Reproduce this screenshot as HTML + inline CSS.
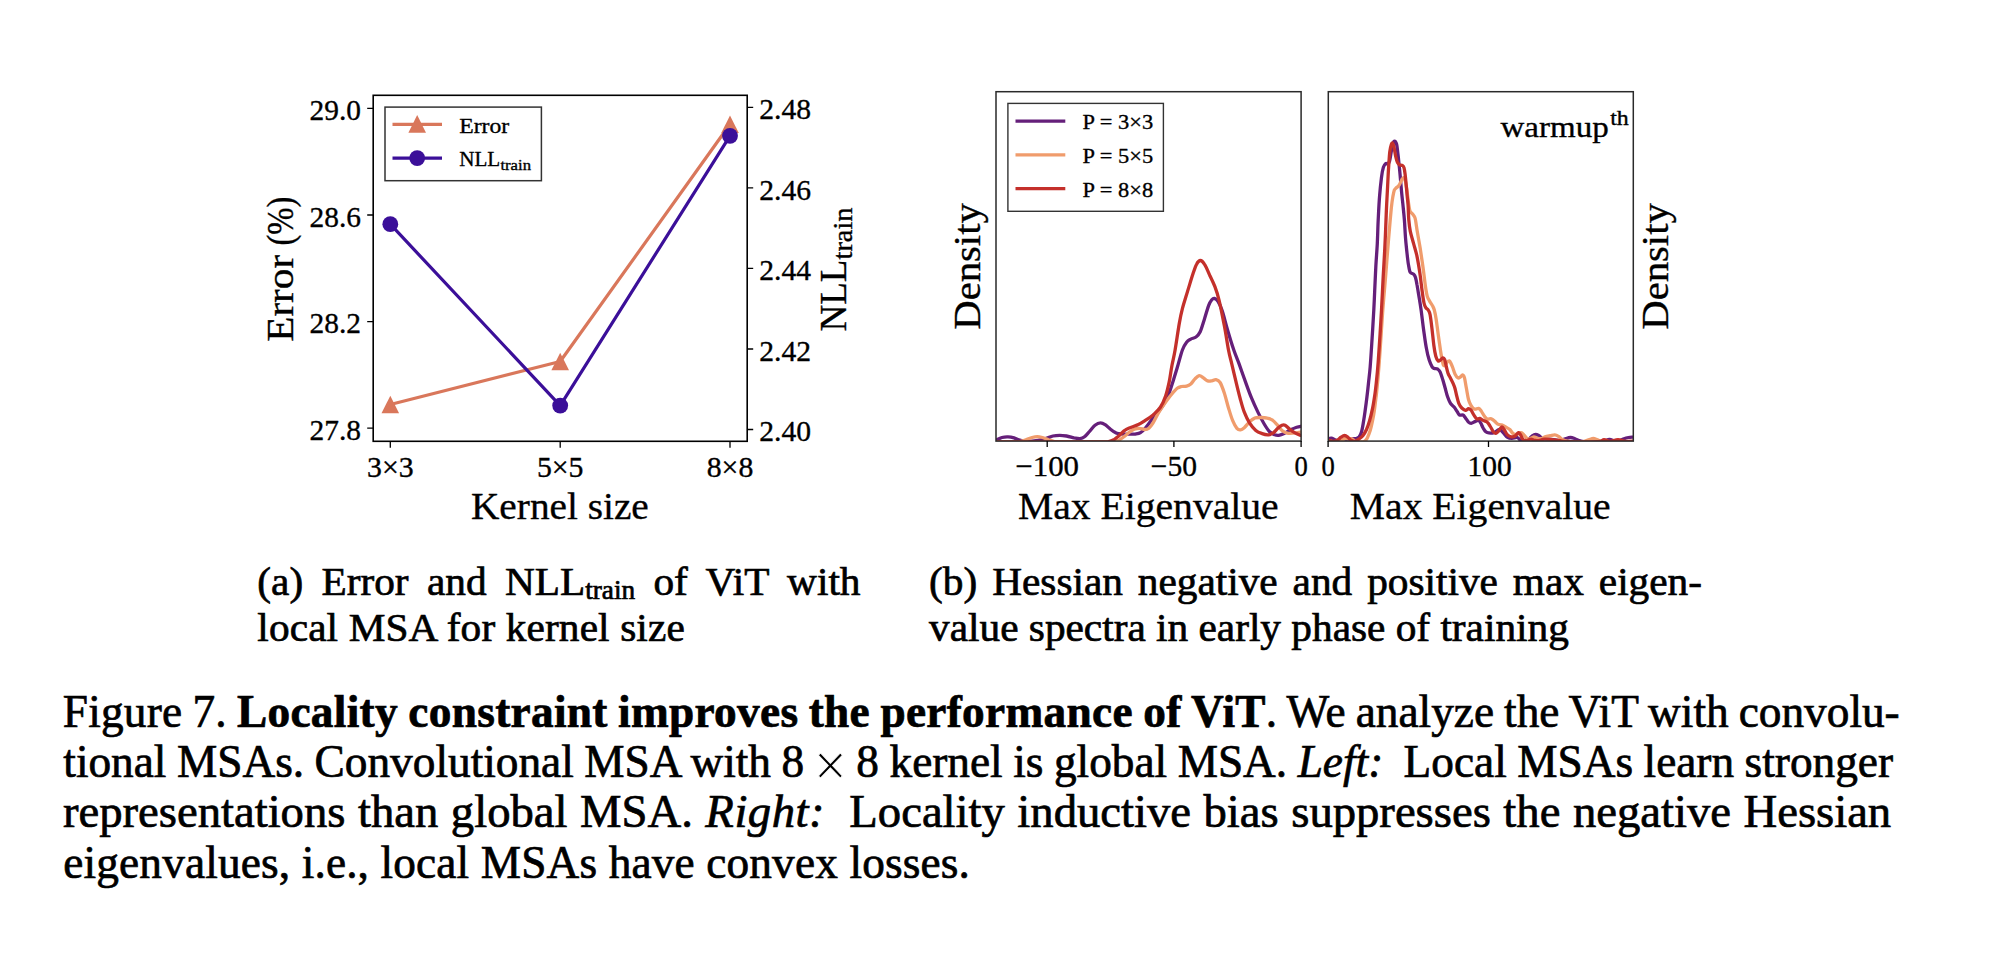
<!DOCTYPE html>
<html lang="en"><head><meta charset="utf-8"><title>Figure 7</title>
<style>
html,body{margin:0;padding:0;background:#fff}
body{width:2000px;height:954px;position:relative;overflow:hidden;font-family:"Liberation Serif", serif;color:#000}
.ln{position:absolute;white-space:pre;line-height:1;margin:0;padding:0;-webkit-text-stroke:0.7px #000}
.ln b{letter-spacing:0.31px}
.sub{font-size:66%;position:relative;top:0.15em;letter-spacing:0}
.m{display:inline-block;width:0.886em;text-align:center;word-spacing:0;font-size:1.3em;line-height:0;position:relative;top:0.147em;-webkit-text-stroke:0.8px #fff}
.g{display:inline-block;width:0.45em;height:0;overflow:hidden;vertical-align:top;word-spacing:0}
svg text{white-space:pre;stroke:#000;stroke-width:0.35px;stroke-linejoin:round}
</style></head><body>
<svg width="2000" height="560" viewBox="0 0 2000 560" style="position:absolute;left:0;top:0" font-family='"Liberation Serif", serif' fill="#000">
<g fill="none" stroke-width="3.2" stroke-linejoin="round">
<polyline stroke="#d9775b" points="390.3,404.5 560.2,361.5 730.0,124.2"/>
</g>
<polygon fill="#d9775b" points="390.3,395.7 381.5,413.3 399.1,413.3"/>
<polygon fill="#d9775b" points="560.2,352.7 551.4,370.3 569.0,370.3"/>
<polygon fill="#d9775b" points="730.0,115.4 721.2,133.0 738.8,133.0"/>
<polyline fill="none" stroke-width="3.2" stroke-linejoin="round" stroke="#3b0f99" points="390.3,224.2 560.2,405.6 730.0,135.8"/>
<circle cx="390.3" cy="224.2" r="7.9" fill="#3b0f99"/>
<circle cx="560.2" cy="405.6" r="7.9" fill="#3b0f99"/>
<circle cx="730.0" cy="135.8" r="7.9" fill="#3b0f99"/>
<rect x="373.2" y="95.3" width="374.0" height="346.0" fill="none" stroke="#000" stroke-width="1.6"/>
<text x="361.0" y="120.1" font-size="30.0" textLength="51.4" lengthAdjust="spacingAndGlyphs" text-anchor="end">29.0</text>
<text x="361.0" y="226.7" font-size="30.0" textLength="51.4" lengthAdjust="spacingAndGlyphs" text-anchor="end">28.6</text>
<text x="361.0" y="333.3" font-size="30.0" textLength="51.4" lengthAdjust="spacingAndGlyphs" text-anchor="end">28.2</text>
<text x="361.0" y="439.9" font-size="30.0" textLength="51.4" lengthAdjust="spacingAndGlyphs" text-anchor="end">27.8</text>
<text x="759.2" y="119.0" font-size="30.0" textLength="51.8" lengthAdjust="spacingAndGlyphs">2.48</text>
<text x="759.2" y="199.6" font-size="30.0" textLength="51.8" lengthAdjust="spacingAndGlyphs">2.46</text>
<text x="759.2" y="280.1" font-size="30.0" textLength="51.8" lengthAdjust="spacingAndGlyphs">2.44</text>
<text x="759.2" y="360.7" font-size="30.0" textLength="51.8" lengthAdjust="spacingAndGlyphs">2.42</text>
<text x="759.2" y="441.2" font-size="30.0" textLength="51.8" lengthAdjust="spacingAndGlyphs">2.40</text>
<text x="390.3" y="477.0" font-size="30.0" textLength="46.6" lengthAdjust="spacingAndGlyphs" text-anchor="middle">3×3</text>
<text x="560.2" y="477.0" font-size="30.0" textLength="46.6" lengthAdjust="spacingAndGlyphs" text-anchor="middle">5×5</text>
<text x="730.0" y="477.0" font-size="30.0" textLength="46.6" lengthAdjust="spacingAndGlyphs" text-anchor="middle">8×8</text>
<path d="M373.2 108.4h-6M373.2 215.0h-6M373.2 321.6h-6M373.2 428.2h-6M747.2 107.3h6M747.2 187.9h6M747.2 268.4h6M747.2 349.0h6M747.2 429.5h6M390.3 441.3v6.5M560.2 441.3v6.5M730.0 441.3v6.5" stroke="#000" stroke-width="1.3" fill="none"/>
<text x="471.0" y="519.2" font-size="38.5" textLength="177.8" lengthAdjust="spacingAndGlyphs">Kernel size</text>
<text x="293.0" y="341.8" font-size="38.5" textLength="87.0" lengthAdjust="spacingAndGlyphs" transform="rotate(-90 293.0 341.8)">Error</text>
<text x="293.0" y="245.6" font-size="38.5" textLength="49.0" lengthAdjust="spacingAndGlyphs" transform="rotate(-90 293.0 245.6)">(%)</text>
<g transform="rotate(-90 846.0 331.5)">
<text x="846.0" y="331.5" font-size="38.5" textLength="72.0" lengthAdjust="spacingAndGlyphs">NLL</text>
<text x="918.0" y="337.7" font-size="27.0" textLength="52.0" lengthAdjust="spacingAndGlyphs">train</text>
</g>
<rect x="385.0" y="107.1" width="156.4" height="73.6" fill="#fff" stroke="#333" stroke-width="1.5"/>
<path d="M392.5 124.4H442" stroke="#d9775b" stroke-width="3.2"/>
<polygon fill="#d9775b" points="417.2,115.1 408.4,132.7 426.0,132.7"/>
<path d="M392.5 158.1H442" stroke="#3b0f99" stroke-width="3.2"/>
<circle cx="417.2" cy="158.1" r="7.9" fill="#3b0f99"/>
<text x="459.2" y="133.0" font-size="22.0" textLength="49.9" lengthAdjust="spacingAndGlyphs">Error</text>
<text x="459.2" y="166.0" font-size="22.0" textLength="41.0" lengthAdjust="spacingAndGlyphs">NLL</text>
<text x="500.4" y="169.6" font-size="15.5" textLength="30.6" lengthAdjust="spacingAndGlyphs">train</text>
<clipPath id="cm"><rect x="996.0" y="91.7" width="305.1" height="349.4"/></clipPath>
<g clip-path="url(#cm)" fill="none" stroke-width="3.3" stroke-linejoin="round" stroke-linecap="butt">
<path stroke="#651f7a" d="M994.0 441.1C994.3 440.9 994.7 440.8 996.0 440.2C997.3 439.6 1000.0 438.1 1002.0 437.5C1004.0 436.9 1006.0 436.7 1008.0 436.8C1010.0 436.9 1012.0 437.3 1014.0 437.9C1016.0 438.5 1017.8 439.6 1020.0 440.2C1022.2 440.8 1024.5 441.5 1027.5 441.5C1030.5 441.5 1035.0 440.9 1038.0 440.4C1041.0 439.9 1043.0 439.4 1045.5 438.7C1048.0 438.0 1050.6 436.6 1053.0 436.0C1055.4 435.4 1057.5 435.3 1059.8 435.3C1062.0 435.3 1064.1 435.6 1066.5 436.0C1068.9 436.4 1071.8 437.4 1074.0 437.9C1076.2 438.3 1078.2 438.9 1080.0 438.7C1081.8 438.5 1082.9 438.1 1084.5 436.8C1086.1 435.5 1088.0 433.0 1089.8 431.1C1091.5 429.2 1093.2 426.6 1095.0 425.2C1096.8 423.8 1098.5 422.8 1100.3 422.8C1102.0 422.7 1103.8 423.8 1105.5 424.9C1107.2 426.1 1109.0 428.2 1110.8 429.5C1112.5 430.9 1114.1 432.2 1116.0 432.9C1117.9 433.7 1119.5 433.8 1122.0 434.0C1124.5 434.1 1128.8 434.0 1131.0 434.1C1133.2 434.1 1133.6 434.3 1135.2 434.1C1136.8 433.8 1138.8 433.7 1140.5 432.6C1142.2 431.6 1144.0 429.7 1145.7 427.7C1147.5 425.7 1149.1 423.1 1151.0 420.7C1152.9 418.3 1155.2 415.9 1157.3 413.2C1159.4 410.5 1161.6 407.8 1163.5 404.6C1165.4 401.4 1167.2 397.9 1168.8 394.0C1170.4 390.1 1171.6 385.8 1173.0 381.4C1174.4 377.0 1175.6 373.0 1177.2 367.8C1178.8 362.6 1180.8 354.3 1182.4 350.0C1184.0 345.7 1185.2 344.0 1186.6 342.2C1188.0 340.4 1189.2 340.0 1190.8 339.1C1192.4 338.2 1194.4 338.2 1196.0 337.0C1197.6 335.8 1198.8 334.8 1200.2 331.8C1201.6 328.8 1203.0 323.6 1204.4 319.2C1205.8 314.8 1207.4 308.8 1208.6 305.6C1209.8 302.4 1210.8 301.0 1211.8 299.8C1212.8 298.6 1213.4 298.1 1214.4 298.4C1215.4 298.7 1216.7 299.3 1218.0 301.4C1219.3 303.5 1220.6 306.1 1222.2 310.8C1223.8 315.5 1225.6 323.2 1227.5 329.7C1229.4 336.2 1231.9 344.4 1233.8 350.0C1235.7 355.6 1237.1 358.4 1239.0 363.6C1240.9 368.8 1243.2 375.6 1245.3 381.4C1247.4 387.2 1249.5 393.1 1251.6 398.2C1253.7 403.3 1255.8 407.8 1257.9 412.1C1260.0 416.4 1262.3 420.8 1264.2 424.0C1266.1 427.2 1267.7 429.7 1269.4 431.5C1271.2 433.3 1273.1 434.1 1274.7 434.8C1276.3 435.4 1277.2 435.5 1278.8 435.3C1280.4 435.1 1282.2 434.5 1284.1 433.6C1286.0 432.7 1288.3 430.9 1290.4 429.8C1292.5 428.8 1294.9 427.8 1296.7 427.2C1298.5 426.6 1299.9 426.4 1301.1 426.2C1302.3 425.9 1303.5 425.7 1304.0 425.6"/>
<path stroke="#f09c6c" d="M994.0 441.9C997.3 441.9 1009.7 442.0 1014.0 441.9C1018.3 441.8 1018.0 441.9 1020.0 441.5C1022.0 441.1 1024.0 440.5 1026.0 439.8C1028.0 439.1 1030.1 438.0 1032.0 437.5C1033.9 437.0 1035.5 436.6 1037.3 436.6C1039.0 436.6 1040.6 437.0 1042.5 437.5C1044.4 438.0 1046.5 439.1 1048.5 439.8C1050.5 440.5 1052.2 441.2 1054.5 441.6C1056.8 441.9 1054.4 441.8 1062.0 441.9C1069.6 441.9 1091.4 441.9 1100.0 441.9C1108.6 441.9 1110.6 442.0 1113.8 441.7C1117.0 441.4 1117.2 441.1 1119.0 440.2C1120.8 439.3 1122.5 437.7 1124.3 436.4C1126.0 435.1 1127.8 433.3 1129.5 432.1C1131.2 430.9 1132.5 430.0 1134.2 429.3C1135.9 428.7 1137.7 428.3 1139.4 428.3C1141.2 428.3 1143.1 429.5 1144.7 429.5C1146.3 429.5 1147.5 429.4 1148.9 428.3C1150.3 427.2 1151.5 425.4 1153.1 422.9C1154.7 420.4 1156.4 416.4 1158.3 413.2C1160.2 410.0 1162.3 406.8 1164.6 403.6C1166.9 400.4 1169.8 396.5 1171.9 394.0C1174.0 391.5 1175.6 389.6 1177.2 388.3C1178.8 387.1 1179.8 386.9 1181.4 386.5C1183.0 386.1 1185.0 386.6 1186.6 386.2C1188.2 385.8 1189.4 385.3 1190.8 384.1C1192.2 382.9 1193.6 380.2 1195.0 378.8C1196.4 377.4 1197.8 375.9 1199.2 375.7C1200.6 375.5 1202.0 376.9 1203.4 377.8C1204.8 378.7 1206.2 380.4 1207.6 380.9C1209.0 381.4 1210.4 381.1 1211.8 380.9C1213.2 380.7 1214.6 379.3 1216.0 379.6C1217.4 379.9 1218.7 380.3 1220.1 382.5C1221.5 384.7 1222.9 388.8 1224.3 393.0C1225.7 397.2 1227.1 403.3 1228.5 407.9C1229.9 412.5 1231.3 417.3 1232.7 420.7C1234.1 424.1 1235.6 426.8 1236.9 428.3C1238.2 429.8 1239.4 430.0 1240.6 429.8C1241.8 429.7 1242.8 429.0 1244.3 427.7C1245.8 426.4 1247.8 423.5 1249.5 421.8C1251.2 420.2 1252.8 418.8 1254.7 418.1C1256.6 417.3 1258.9 417.5 1261.0 417.5C1263.1 417.5 1265.4 417.6 1267.3 418.1C1269.2 418.5 1270.8 419.0 1272.6 420.2C1274.3 421.5 1276.2 423.8 1277.8 425.5C1279.4 427.2 1280.4 429.2 1282.0 430.5C1283.6 431.7 1285.3 432.7 1287.2 433.1C1289.1 433.6 1291.2 433.3 1293.5 433.1C1295.8 432.9 1299.3 432.3 1301.1 432.0C1302.8 431.7 1303.5 431.7 1304.0 431.6"/>
<path stroke="#c4302b" d="M994.0 441.9C1005.0 441.9 1042.3 441.9 1060.0 441.9C1077.7 441.9 1091.9 441.9 1100.0 441.9C1108.1 441.9 1106.2 442.1 1108.5 441.7C1110.8 441.3 1112.0 440.8 1113.8 439.8C1115.5 438.8 1117.2 437.2 1119.0 435.7C1120.8 434.2 1122.5 432.0 1124.3 430.7C1126.1 429.3 1127.7 428.7 1130.0 427.7C1132.3 426.7 1135.8 425.8 1138.4 424.5C1141.0 423.3 1143.2 421.8 1145.7 420.2C1148.2 418.6 1150.6 417.0 1153.1 414.9C1155.5 412.7 1158.3 410.4 1160.4 407.3C1162.5 404.2 1164.1 400.4 1165.6 396.1C1167.1 391.8 1168.2 386.5 1169.3 381.4C1170.3 376.3 1170.9 370.9 1171.9 365.7C1172.9 360.5 1173.9 357.1 1175.1 350.0C1176.3 342.9 1178.1 330.3 1179.3 323.4C1180.5 316.5 1181.0 314.1 1182.4 308.7C1183.8 303.3 1186.0 296.7 1187.7 290.9C1189.5 285.1 1191.4 278.6 1192.9 274.1C1194.4 269.7 1195.3 266.5 1196.6 264.2C1197.8 261.9 1199.1 260.5 1200.4 260.5C1201.7 260.5 1202.9 261.8 1204.4 264.2C1206.0 266.6 1208.0 271.4 1209.7 275.2C1211.5 278.9 1213.3 282.5 1214.9 286.7C1216.5 290.9 1217.5 293.8 1219.1 300.3C1220.7 306.8 1222.7 317.2 1224.3 325.5C1225.9 333.8 1227.3 343.6 1228.5 350.0C1229.7 356.4 1230.5 358.4 1231.7 363.6C1232.9 368.8 1234.5 375.6 1235.9 381.4C1237.3 387.2 1238.7 393.1 1240.1 398.2C1241.5 403.3 1242.7 408.0 1244.3 412.1C1245.9 416.2 1247.6 419.8 1249.5 422.9C1251.4 425.9 1253.7 428.7 1255.8 430.5C1257.9 432.3 1260.0 432.9 1262.1 433.6C1264.2 434.4 1266.5 434.9 1268.4 434.8C1270.3 434.6 1272.0 433.7 1273.6 432.6C1275.2 431.5 1276.4 429.5 1277.8 428.3C1279.2 427.1 1280.8 425.7 1282.0 425.2C1283.2 424.7 1283.9 424.6 1285.1 425.2C1286.3 425.8 1287.7 427.6 1289.3 428.8C1290.9 430.1 1292.6 431.5 1294.6 432.6C1296.6 433.7 1299.5 434.9 1301.1 435.6C1302.7 436.3 1303.5 436.5 1304.0 436.7"/>
</g>
<rect x="996.0" y="91.7" width="305.1" height="349.4" fill="none" stroke="#2a2a2a" stroke-width="1.5"/>
<text x="1047.2" y="476.0" font-size="30.0" textLength="63.6" lengthAdjust="spacingAndGlyphs" text-anchor="middle">−100</text>
<text x="1173.9" y="476.0" font-size="30.0" textLength="46.2" lengthAdjust="spacingAndGlyphs" text-anchor="middle">−50</text>
<text x="1301.1" y="476.0" font-size="30.0" textLength="13.3" lengthAdjust="spacingAndGlyphs" text-anchor="middle">0</text>
<text x="1018.0" y="519.3" font-size="38.5" textLength="260.7" lengthAdjust="spacingAndGlyphs">Max Eigenvalue</text>
<text x="980.4" y="329.7" font-size="38.5" textLength="126.5" lengthAdjust="spacingAndGlyphs" transform="rotate(-90 980.4 329.7)">Density</text>
<rect x="1007.9" y="103.4" width="155.5" height="107.9" fill="#fff" stroke="#333" stroke-width="1.4"/>
<path d="M1015.5 121.1H1065.3" stroke="#651f7a" stroke-width="3.3"/>
<text x="1082.6" y="129.1" font-size="22.0" textLength="70.5" lengthAdjust="spacingAndGlyphs">P = 3×3</text>
<path d="M1015.5 154.9H1065.3" stroke="#f09c6c" stroke-width="3.3"/>
<text x="1082.6" y="162.9" font-size="22.0" textLength="70.5" lengthAdjust="spacingAndGlyphs">P = 5×5</text>
<path d="M1015.5 188.7H1065.3" stroke="#c4302b" stroke-width="3.3"/>
<text x="1082.6" y="196.7" font-size="22.0" textLength="70.5" lengthAdjust="spacingAndGlyphs">P = 8×8</text>
<clipPath id="cr"><rect x="1328.3" y="91.7" width="305.0" height="349.4"/></clipPath>
<g clip-path="url(#cr)" fill="none" stroke-width="3.3" stroke-linejoin="round">
<path stroke="#651f7a" d="M1326.0 439.4C1326.4 439.3 1327.4 438.9 1328.3 438.7C1329.2 438.5 1330.2 437.9 1331.3 438.1C1332.4 438.3 1333.6 439.2 1335.0 439.8C1336.4 440.4 1337.6 441.2 1339.5 441.5C1341.4 441.8 1344.3 441.9 1346.3 441.5C1348.3 441.1 1349.9 439.5 1351.5 439.0C1353.1 438.5 1354.8 438.8 1356.0 438.5C1357.2 438.2 1358.1 438.2 1359.0 437.2C1359.9 436.2 1360.6 434.8 1361.3 432.6C1362.0 430.4 1362.5 427.6 1363.1 424.1C1363.7 420.6 1364.4 416.3 1365.0 411.8C1365.6 407.3 1366.3 402.1 1366.9 397.3C1367.5 392.5 1368.0 388.1 1368.5 383.0C1369.0 377.9 1369.6 374.1 1370.2 366.6C1370.8 359.2 1371.5 347.7 1372.1 338.3C1372.7 328.9 1373.4 317.9 1373.8 310.0C1374.2 302.1 1374.4 297.9 1374.7 290.8C1375.0 283.7 1375.4 275.1 1375.8 267.2C1376.2 259.3 1376.9 251.5 1377.3 243.6C1377.7 235.7 1377.8 227.9 1378.2 220.0C1378.6 212.1 1379.0 203.1 1379.6 196.0C1380.1 188.9 1380.9 182.0 1381.5 177.2C1382.1 172.4 1382.7 169.6 1383.4 167.3C1384.1 165.0 1385.1 164.1 1385.8 163.5C1386.5 162.9 1387.2 164.4 1387.8 164.0C1388.4 163.6 1389.0 163.0 1389.6 161.0C1390.2 159.0 1390.7 154.8 1391.2 152.0C1391.7 149.2 1392.2 145.8 1392.8 144.0C1393.3 142.2 1393.9 141.1 1394.5 141.1C1395.1 141.1 1396.0 142.0 1396.6 144.2C1397.2 146.4 1397.5 150.6 1398.0 154.5C1398.5 158.4 1398.9 163.0 1399.4 167.7C1399.9 172.4 1400.4 178.4 1400.8 182.8C1401.2 187.2 1401.4 190.1 1401.8 194.2C1402.2 198.3 1402.8 203.1 1403.2 207.4C1403.6 211.7 1404.0 214.8 1404.4 220.0C1404.8 225.2 1405.1 232.6 1405.6 238.9C1406.1 245.2 1407.0 253.0 1407.5 257.7C1408.0 262.4 1408.4 264.8 1408.9 267.2C1409.4 269.6 1409.5 271.2 1410.3 272.4C1411.1 273.6 1412.7 273.3 1413.6 274.2C1414.5 275.1 1415.0 275.8 1415.5 277.5C1416.0 279.2 1416.4 281.2 1416.9 284.2C1417.5 287.2 1418.1 291.2 1418.8 295.5C1419.5 299.8 1420.3 304.4 1421.1 310.0C1421.9 315.6 1422.6 322.6 1423.5 328.9C1424.4 335.2 1425.3 342.5 1426.3 347.7C1427.2 352.9 1428.2 356.9 1429.2 360.0C1430.2 363.1 1431.2 365.2 1432.0 366.6C1432.8 368.0 1433.4 368.1 1434.3 368.5C1435.2 368.9 1436.6 368.4 1437.6 369.0C1438.5 369.6 1439.1 370.0 1440.0 371.8C1440.9 373.6 1442.0 377.2 1442.8 379.8C1443.6 382.4 1444.2 384.7 1445.0 387.5C1445.8 390.3 1446.6 393.9 1447.5 396.5C1448.4 399.1 1449.4 401.6 1450.5 403.4C1451.6 405.2 1453.2 405.8 1454.3 407.2C1455.4 408.6 1456.4 410.5 1457.3 411.8C1458.2 413.1 1458.5 414.4 1459.5 415.0C1460.5 415.5 1462.0 414.6 1463.0 415.1C1464.0 415.6 1464.6 416.8 1465.5 417.9C1466.4 419.1 1467.6 421.2 1468.5 422.2C1469.4 423.1 1470.1 423.4 1471.1 423.4C1472.1 423.3 1473.3 422.4 1474.5 421.8C1475.7 421.3 1477.3 420.2 1478.3 420.3C1479.3 420.4 1479.7 421.3 1480.5 422.6C1481.3 423.8 1482.2 426.5 1483.1 428.0C1484.0 429.5 1484.8 431.0 1485.8 431.8C1486.8 432.6 1487.4 432.8 1488.8 432.9C1490.2 433.1 1492.6 433.0 1494.0 432.6C1495.4 432.2 1496.0 431.2 1497.0 430.7C1498.0 430.2 1498.9 429.1 1500.0 429.5C1501.1 430.0 1502.5 432.1 1503.8 433.3C1505.0 434.6 1506.1 436.4 1507.5 437.2C1508.9 438.0 1510.4 438.2 1512.0 438.3C1513.6 438.3 1515.9 437.2 1517.3 437.5C1518.7 437.8 1519.2 439.6 1520.3 440.2C1521.4 440.8 1522.6 441.4 1524.0 441.3C1525.4 441.2 1527.1 440.3 1528.5 439.4C1529.9 438.5 1531.1 436.6 1532.3 435.7C1533.5 434.8 1534.5 434.3 1535.6 434.3C1536.7 434.3 1537.8 435.0 1539.0 435.7C1540.2 436.4 1541.2 438.1 1542.8 438.7C1544.4 439.3 1546.7 439.0 1548.8 439.2C1550.9 439.4 1553.6 439.5 1555.5 439.8C1557.4 440.0 1558.5 440.8 1560.0 440.7C1561.5 440.6 1562.8 439.7 1564.5 439.2C1566.2 438.7 1568.7 437.6 1570.4 437.5C1572.2 437.4 1573.3 438.1 1575.0 438.7C1576.7 439.3 1578.4 440.4 1580.3 440.9C1582.2 441.4 1583.0 441.7 1586.3 441.9C1589.6 442.1 1597.0 442.0 1600.0 441.9C1603.0 441.8 1602.4 441.7 1604.0 441.3C1605.6 440.9 1607.7 439.6 1609.5 439.5C1611.3 439.4 1613.2 440.7 1615.0 440.9C1616.8 441.1 1618.5 440.9 1620.0 440.5C1621.5 440.1 1622.6 439.2 1624.0 438.7C1625.4 438.2 1627.0 437.8 1628.5 437.5C1630.0 437.2 1632.0 437.2 1633.3 437.1C1634.5 437.0 1635.5 437.1 1636.0 437.1"/>
<path stroke="#f09c6c" d="M1326.0 440.9C1326.4 440.8 1327.0 440.4 1328.3 440.5C1329.6 440.6 1332.0 441.6 1334.0 441.7C1336.0 441.8 1338.2 441.7 1340.0 441.2C1341.8 440.7 1343.5 439.1 1344.8 438.7C1346.1 438.3 1346.9 438.9 1348.0 438.9C1349.1 438.9 1350.3 438.3 1351.5 438.7C1352.7 439.1 1353.9 440.7 1355.3 441.2C1356.7 441.7 1358.5 441.8 1360.0 441.9C1361.5 441.9 1363.1 442.2 1364.3 441.5C1365.5 440.8 1366.3 439.8 1367.3 437.9C1368.3 436.0 1369.4 433.1 1370.3 430.3C1371.2 427.4 1371.8 424.4 1372.5 421.0C1373.2 417.7 1373.8 414.6 1374.4 410.3C1375.0 405.9 1375.7 400.0 1376.3 395.0C1376.9 390.0 1377.3 385.5 1377.8 380.0C1378.3 374.5 1378.7 369.6 1379.3 361.9C1379.9 354.2 1380.6 342.2 1381.2 333.6C1381.8 325.0 1382.2 317.9 1382.8 310.0C1383.4 302.1 1384.1 293.9 1384.8 286.0C1385.5 278.1 1386.1 270.4 1386.7 262.5C1387.3 254.7 1388.0 246.0 1388.6 238.9C1389.2 231.8 1389.7 225.2 1390.2 220.0C1390.7 214.8 1391.0 211.2 1391.4 207.4C1391.8 203.6 1392.3 199.8 1392.8 197.0C1393.3 194.2 1393.7 191.9 1394.2 190.4C1394.8 188.9 1395.4 188.7 1396.1 188.0C1396.8 187.3 1397.8 187.0 1398.5 186.1C1399.2 185.2 1399.8 183.9 1400.4 182.8C1401.0 181.7 1401.5 180.2 1402.0 179.3C1402.5 178.4 1403.1 177.4 1403.6 177.6C1404.1 177.8 1404.7 178.8 1405.2 180.5C1405.7 182.2 1406.1 184.9 1406.6 188.0C1407.1 191.1 1407.6 195.8 1408.0 199.0C1408.4 202.2 1408.8 205.4 1409.2 207.5C1409.6 209.6 1409.6 210.4 1410.2 211.5C1410.8 212.6 1411.9 213.1 1412.6 214.0C1413.3 214.9 1414.0 215.8 1414.5 216.8C1415.0 217.8 1415.0 217.4 1415.5 220.0C1416.0 222.6 1416.6 227.6 1417.4 232.3C1418.2 237.0 1419.3 242.5 1420.2 248.3C1421.1 254.1 1422.1 260.9 1423.0 267.2C1423.9 273.5 1424.7 281.1 1425.4 286.0C1426.1 290.9 1426.6 293.9 1427.3 296.4C1428.0 298.9 1428.7 299.5 1429.6 301.1C1430.5 302.7 1431.7 304.3 1432.5 305.8C1433.3 307.3 1433.7 307.7 1434.3 310.0C1434.9 312.3 1435.6 315.5 1436.2 319.4C1436.8 323.3 1437.4 328.4 1438.1 333.6C1438.8 338.8 1439.9 346.5 1440.5 350.6C1441.1 354.8 1441.4 356.1 1441.9 358.5C1442.4 360.9 1442.8 363.6 1443.3 364.8C1443.8 366.0 1444.4 365.9 1445.0 365.5C1445.6 365.1 1446.3 363.1 1447.0 362.3C1447.7 361.5 1448.7 360.7 1449.4 360.9C1450.1 361.1 1450.5 362.4 1451.0 363.5C1451.5 364.6 1452.0 365.7 1452.7 367.5C1453.4 369.3 1454.2 372.5 1455.1 374.2C1456.0 375.9 1457.0 377.4 1457.9 377.9C1458.8 378.4 1459.5 377.5 1460.3 377.0C1461.1 376.5 1461.9 374.8 1462.6 374.9C1463.3 375.0 1463.9 375.7 1464.5 377.9C1465.1 380.1 1465.7 384.7 1466.4 388.3C1467.1 391.9 1467.7 396.6 1468.5 399.5C1469.3 402.4 1470.1 404.0 1471.1 405.6C1472.1 407.2 1473.2 408.7 1474.5 409.1C1475.8 409.6 1477.5 408.0 1478.6 408.3C1479.7 408.6 1480.3 409.8 1481.3 411.1C1482.2 412.4 1483.3 414.7 1484.3 416.0C1485.3 417.3 1486.1 418.6 1487.3 419.1C1488.5 419.5 1490.2 418.4 1491.4 418.8C1492.7 419.2 1493.7 420.5 1494.8 421.4C1495.9 422.3 1496.7 423.5 1497.8 424.1C1498.9 424.7 1500.1 424.4 1501.5 424.9C1502.9 425.4 1504.6 426.4 1506.0 427.2C1507.4 428.0 1508.7 428.5 1509.8 429.5C1510.9 430.6 1511.7 432.5 1512.8 433.3C1513.9 434.2 1515.1 434.6 1516.5 434.5C1517.9 434.3 1519.8 432.5 1521.0 432.6C1522.2 432.7 1523.0 433.9 1524.0 434.9C1525.0 435.8 1526.0 437.7 1527.0 438.3C1528.0 438.9 1528.9 438.9 1530.0 438.7C1531.1 438.4 1532.5 436.9 1533.8 436.8C1535.0 436.7 1536.2 438.0 1537.5 438.3C1538.8 438.6 1540.0 438.9 1541.3 438.7C1542.5 438.4 1543.5 437.3 1545.0 436.8C1546.5 436.3 1548.7 436.0 1550.3 435.7C1551.9 435.4 1553.4 434.8 1554.8 434.9C1556.2 435.0 1557.2 435.6 1558.5 436.4C1559.8 437.2 1560.8 438.6 1562.3 439.4C1563.8 440.2 1565.4 440.8 1567.5 441.2C1569.6 441.6 1572.5 441.8 1575.0 441.9C1577.5 442.0 1580.2 442.0 1582.5 441.7C1584.8 441.4 1586.7 440.4 1588.5 439.9C1590.3 439.4 1591.8 438.5 1593.3 438.5C1594.8 438.5 1596.0 439.4 1597.5 439.9C1599.0 440.4 1599.9 441.2 1602.0 441.5C1604.1 441.8 1604.3 441.9 1610.0 441.9C1615.7 441.9 1631.7 441.6 1636.0 441.5"/>
<path stroke="#c4302b" d="M1326.0 439.9C1326.4 439.9 1327.2 439.9 1328.3 440.2C1329.4 440.4 1331.3 441.4 1332.8 441.4C1334.3 441.4 1335.9 440.9 1337.3 440.2C1338.7 439.5 1339.8 438.0 1341.0 437.2C1342.2 436.4 1343.6 435.4 1344.8 435.5C1346.0 435.5 1347.0 436.7 1348.1 437.5C1349.2 438.3 1350.3 439.9 1351.5 440.5C1352.7 441.1 1354.0 441.5 1355.3 441.3C1356.5 441.0 1357.8 439.9 1359.0 439.0C1360.2 438.1 1361.5 437.3 1362.8 435.7C1364.0 434.1 1365.4 432.0 1366.5 429.5C1367.6 427.1 1368.5 424.5 1369.5 421.0C1370.5 417.6 1371.6 413.1 1372.5 408.7C1373.4 404.4 1374.1 399.7 1374.8 395.0C1375.5 390.3 1375.9 386.3 1376.5 380.8C1377.1 375.3 1377.6 369.8 1378.2 361.9C1378.8 354.0 1379.5 342.2 1380.1 333.6C1380.6 325.0 1381.0 319.5 1381.5 310.0C1382.0 300.5 1382.7 286.9 1383.2 276.6C1383.8 266.3 1384.3 257.7 1384.8 248.3C1385.3 238.9 1385.7 227.4 1386.0 220.0C1386.3 212.6 1386.4 209.2 1386.7 203.6C1387.0 198.0 1387.3 192.6 1387.6 186.6C1387.9 180.6 1388.2 173.5 1388.6 167.7C1389.0 161.9 1389.3 155.6 1389.8 151.7C1390.3 147.8 1390.9 145.6 1391.4 144.2C1391.9 142.8 1392.2 142.7 1392.6 143.2C1393.0 143.7 1393.5 144.8 1394.0 147.0C1394.5 149.2 1395.1 153.8 1395.7 156.4C1396.3 159.0 1396.8 161.1 1397.5 162.5C1398.2 163.9 1399.1 164.6 1399.9 165.1C1400.7 165.6 1401.6 165.0 1402.3 165.4C1403.0 165.8 1403.5 166.2 1404.0 167.7C1404.5 169.2 1404.8 171.8 1405.1 174.3C1405.4 176.8 1405.7 179.5 1406.0 182.8C1406.3 186.1 1406.7 190.4 1407.0 194.2C1407.3 198.0 1407.8 201.2 1408.1 205.5C1408.4 209.8 1408.4 215.7 1408.8 220.0C1409.2 224.3 1409.5 227.4 1410.3 231.3C1411.1 235.2 1412.5 239.5 1413.6 243.6C1414.7 247.7 1415.9 251.1 1416.9 255.8C1417.9 260.5 1418.8 266.1 1419.7 271.9C1420.6 277.7 1421.4 285.6 1422.1 290.8C1422.8 296.0 1423.4 300.2 1424.0 303.0C1424.6 305.8 1425.1 306.5 1425.8 307.7C1426.5 308.9 1427.5 308.8 1428.2 310.0C1428.9 311.2 1429.5 311.6 1430.1 314.7C1430.7 317.8 1431.4 323.7 1432.0 328.9C1432.6 334.1 1433.3 341.2 1433.9 345.8C1434.5 350.4 1435.1 353.7 1435.8 356.2C1436.5 358.7 1437.3 360.3 1438.1 360.9C1438.9 361.5 1439.7 360.5 1440.5 360.0C1441.3 359.5 1442.1 358.0 1442.8 357.9C1443.5 357.8 1444.2 358.2 1444.7 359.5C1445.2 360.8 1445.5 363.4 1446.1 365.7C1446.6 368.0 1447.3 371.2 1448.0 373.2C1448.7 375.2 1449.5 376.2 1450.4 377.9C1451.3 379.6 1452.4 381.8 1453.2 383.6C1454.0 385.4 1454.5 386.6 1455.0 388.5C1455.5 390.4 1455.9 392.5 1456.5 395.0C1457.1 397.5 1457.9 401.2 1458.8 403.4C1459.7 405.6 1460.7 406.9 1461.8 408.0C1462.9 409.1 1464.4 410.1 1465.5 410.3C1466.6 410.4 1467.6 408.8 1468.5 408.7C1469.4 408.7 1469.9 408.8 1470.8 409.8C1471.7 410.9 1472.8 413.4 1473.8 414.9C1474.8 416.4 1475.8 418.2 1476.8 418.8C1477.8 419.4 1478.7 418.1 1479.8 418.4C1480.9 418.7 1482.2 420.0 1483.5 420.6C1484.8 421.2 1486.2 421.2 1487.3 422.2C1488.4 423.1 1489.3 424.9 1490.3 426.5C1491.3 428.1 1492.4 430.7 1493.3 431.8C1494.2 432.9 1495.0 433.5 1495.9 433.3C1496.8 433.2 1497.5 432.2 1498.5 431.1C1499.5 430.0 1500.9 426.9 1501.9 426.8C1502.9 426.6 1503.6 428.9 1504.5 430.3C1505.4 431.6 1506.4 433.8 1507.5 434.9C1508.6 436.0 1510.0 436.6 1511.3 436.8C1512.5 437.0 1513.8 436.7 1515.0 436.0C1516.2 435.3 1517.5 432.8 1518.4 432.6C1519.3 432.4 1519.8 433.7 1520.6 434.9C1521.3 436.0 1522.0 438.4 1522.9 439.4C1523.9 440.4 1525.0 440.7 1526.3 440.7C1527.6 440.7 1529.4 439.2 1530.8 439.2C1532.2 439.1 1533.1 440.1 1534.5 440.4C1535.9 440.6 1537.4 440.9 1539.0 440.7C1540.6 440.5 1542.0 439.4 1544.3 439.2C1546.5 439.0 1549.9 439.3 1552.5 439.6C1555.1 439.8 1557.5 440.3 1560.0 440.7C1562.5 441.1 1561.2 441.5 1567.5 441.7C1573.8 441.9 1591.4 442.0 1597.5 441.7C1603.6 441.4 1601.9 439.8 1604.0 439.7C1606.1 439.6 1607.7 441.3 1610.0 441.3C1612.3 441.3 1615.3 439.7 1618.0 439.7C1620.7 439.7 1623.0 441.1 1626.0 441.3C1629.0 441.5 1634.3 441.1 1636.0 441.1"/>
</g>
<rect x="1328.3" y="91.7" width="305.0" height="349.4" fill="none" stroke="#2a2a2a" stroke-width="1.5"/>
<text x="1328.1" y="476.0" font-size="30.0" textLength="13.3" lengthAdjust="spacingAndGlyphs" text-anchor="middle">0</text>
<text x="1489.7" y="476.0" font-size="30.0" textLength="44.2" lengthAdjust="spacingAndGlyphs" text-anchor="middle">100</text>
<path d="M1047.2 441.1v6M1173.9 441.1v6M1301.1 441.1v6M1328.1 441.1v6M1488.5 441.1v6" stroke="#000" stroke-width="1.3" fill="none"/>
<text x="1349.8" y="519.3" font-size="38.5" textLength="260.9" lengthAdjust="spacingAndGlyphs">Max Eigenvalue</text>
<text x="1667.7" y="329.7" font-size="38.5" textLength="126.5" lengthAdjust="spacingAndGlyphs" transform="rotate(-90 1667.7 329.7)">Density</text>
<text x="1500.5" y="136.6" font-size="30.0" textLength="108.2" lengthAdjust="spacingAndGlyphs">warmup</text>
<text x="1610.2" y="124.5" font-size="21.0" textLength="18.6" lengthAdjust="spacingAndGlyphs">th</text>
</svg>
<div id="a1" class="ln" style="left:257.3px;top:560.81px;font-size:41.3px;word-spacing:8.013px;letter-spacing:0.000px;transform:scale(1.0000,0.9880);transform-origin:0 34.59px;">(a) Error and NLL<span class="sub">train</span> of ViT with</div>
<div id="a2" class="ln" style="left:257.3px;top:606.61px;font-size:41.3px;word-spacing:0.000px;letter-spacing:0.131px;transform:scale(1.0000,0.9880);transform-origin:0 34.59px;">local MSA for kernel size</div>
<div id="b1" class="ln" style="left:929.1px;top:560.81px;font-size:41.3px;word-spacing:4.583px;letter-spacing:0.000px;transform:scale(1.0000,0.9880);transform-origin:0 34.59px;">(b) Hessian negative and positive max eigen-</div>
<div id="b2" class="ln" style="left:929.1px;top:606.61px;font-size:41.3px;word-spacing:0.000px;letter-spacing:-0.003px;transform:scale(1.0000,0.9880);transform-origin:0 34.59px;">value spectra in early phase of training</div>
<div id="c1" class="ln" style="left:62.8px;top:689.56px;font-size:45.3px;word-spacing:-1.271px;letter-spacing:0.000px;transform:scale(1.0000,1.0450);transform-origin:0 37.94px;"><span style="letter-spacing:0.2px">Figure 7.</span> <b>Locality constraint improves the performance of ViT</b>. We analyze the ViT with convolu-</div>
<div id="c2" class="ln" style="left:63.3px;top:739.86px;font-size:45.3px;word-spacing:-0.817px;letter-spacing:0.000px;transform:scale(1.0000,1.0450);transform-origin:0 37.94px;">tional MSAs. Convolutional MSA with 8<span class="m">×</span>8 kernel is global MSA. <i>Left:</i><span class="g"> </span>Local MSAs learn stronger</div>
<div id="c3" class="ln" style="left:63.3px;top:790.26px;font-size:45.3px;word-spacing:0.863px;letter-spacing:0.000px;transform:scale(1.0300,1.0450);transform-origin:0 37.94px;">representations than global MSA. <i style="letter-spacing:0.5px">Right:</i><span class="g" style="width:0.52em"> </span>Locality inductive bias suppresses the negative Hessian</div>
<div id="c4" class="ln" style="left:63.3px;top:840.56px;font-size:45.3px;word-spacing:0.000px;letter-spacing:0.148px;transform:scale(1.0000,1.0450);transform-origin:0 37.94px;">eigenvalues, i.e., local MSAs have convex losses.</div>
</body></html>
